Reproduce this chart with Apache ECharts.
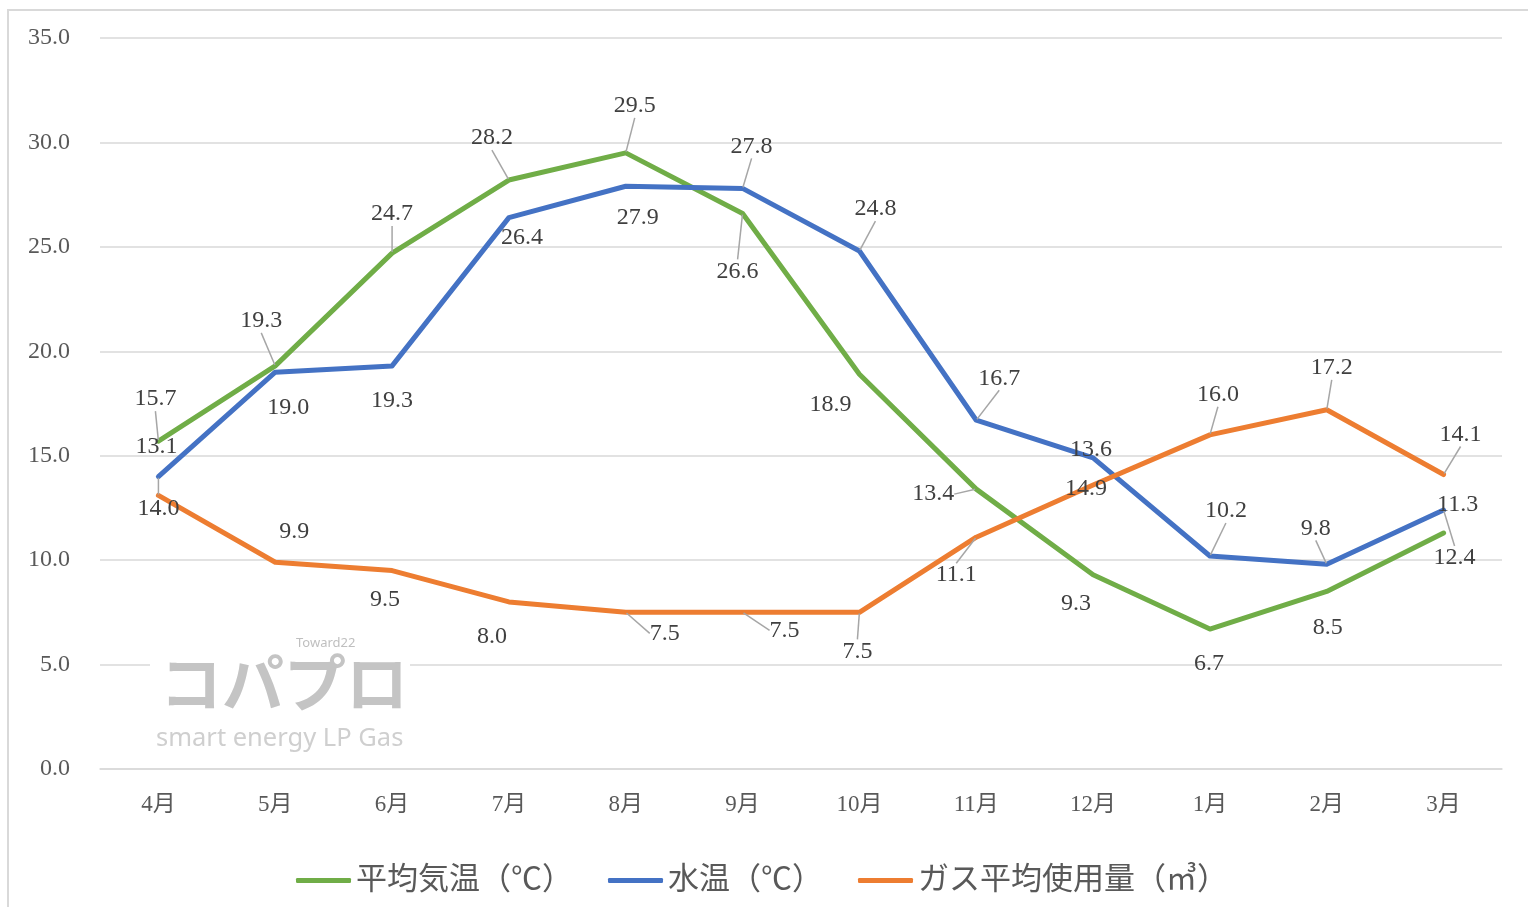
<!DOCTYPE html>
<html>
<head>
<meta charset="utf-8">
<script src="https://cdn.jsdelivr.net/npm/echarts@6/dist/echarts.min.js"></script>
<style>
html,body{margin:0;padding:0;background:#fff;}
#chart{width:1528px;height:907px;}
</style>
</head>
<body>
<div id="chart"></div>
<script>
const categories = ['4月','5月','6月','7月','8月','9月','10月','11月','12月','1月','2月','3月'];
const avgTemp   = [15.7, 19.3, 24.7, 28.2, 29.5, 26.6, 18.9, 13.4, 9.3, 6.7, 8.5, 11.3];
const waterTemp = [14.0, 19.0, 19.3, 26.4, 27.9, 27.8, 24.8, 16.7, 14.9, 10.2, 9.8, 12.4];
const gasUsage  = [13.1, 9.9, 9.5, 8.0, 7.5, 7.5, 7.5, 11.1, 13.6, 16.0, 17.2, 14.1];
const yTicks = { min: 0, max: 35, interval: 5 };
const seriesNames = ['平均気温（℃）', '水温（℃）', 'ガス平均使用量（㎥）'];

// label placement (pixel offsets of each data label from its point) and leader-line flags
const avgOff = [[-3,-42],[-14,-45],[0,-39],[-17,-42],[9,-47],[-5,58],[-29,30],[-43,5],[-17,29],[-1,35],[1,36],[14,-28]];
const avgLead = [1,1,1,1,1,1,0,1,0,0,0,0];
const watOff = [[0,32],[13,36],[0,35],[13,20],[12,31],[9,-42],[16,-42],[23,-42],[-7,31],[16,-45],[-11,-36],[11,48]];
const watLead = [1,0,0,0,0,1,1,1,0,1,1,1];
const gasOff = [[-2,-49],[19,-31],[-7,29],[-17,35],[39,21],[42,18],[-2,39],[-20,38],[-2,-35],[8,-40],[5,-42],[17,-40]];
const gasLead = [0,0,0,0,1,1,1,1,0,1,1,1];

const FONT = "'Liberation Serif', 'Noto Sans CJK JP', serif";

function makeData(vals, lead) {
  return vals.map((v, i) => ({ value: v, labelLine: { show: !!lead[i] } }));
}
function makeSeries(name, vals, color, off, lead) {
  return {
    name: name,
    type: 'line',
    data: makeData(vals, lead),
    showSymbol: true,
    symbol: 'circle',
    symbolSize: 2,
    itemStyle: { color: color },
    lineStyle: { color: color, width: 5, cap: 'round', join: 'round' },
    label: {
      show: true,
      position: 'inside',
      color: '#404040',
      fontSize: 24,
      fontFamily: FONT,
      formatter: p => Number(p.value).toFixed(1)
    },
    labelLine: { show: true, lineStyle: { color: '#A6A6A6', width: 1.5 } },
    labelLayout: function (params) {
      const o = off[params.dataIndex];
      return { dx: o[0], dy: o[1] };
    },
    emphasis: { disabled: true }
  };
}

const chart = echarts.init(document.getElementById('chart'));
chart.setOption({
  animation: false,
  backgroundColor: '#fff',
  grid: { left: 100, right: 26, top: 38, bottom: 138, containLabel: false },
  xAxis: {
    type: 'category',
    data: categories,
    boundaryGap: true,
    axisLine: { show: true, lineStyle: { color: '#D9D9D9', width: 1.5 } },
    axisTick: { show: false },
    axisLabel: { color: '#595959', fontSize: 23, fontFamily: FONT, margin: 24 }
  },
  yAxis: {
    type: 'value',
    min: yTicks.min, max: yTicks.max, interval: yTicks.interval,
    axisLine: { show: false },
    axisTick: { show: false },
    axisLabel: { color: '#595959', fontSize: 24, fontFamily: FONT, margin: 30, formatter: v => v.toFixed(1) },
    splitLine: { lineStyle: { color: '#D9D9D9', width: 1.5 } }
  },
  legend: {
    left: 291,
    top: 860,
    icon: 'roundRect',
    itemWidth: 55,
    itemHeight: 5,
    itemGap: 35,
    textStyle: { color: '#595959', fontSize: 31, fontFamily: FONT },
    data: seriesNames
  },
  graphic: [
    { type: 'rect', z: 100, shape: { x: 8, y: 10, width: 1540, height: 940 }, style: { fill: 'none', stroke: '#D9D9D9', lineWidth: 2 }, silent: true },
    { type: 'rect', z: 1, shape: { x: 150, y: 635, width: 260, height: 122 }, style: { fill: '#fff' }, silent: true },
    { type: 'text', z: 2, left: 160, top: 652, style: { text: 'コパプロ', fill: '#C4C4C4', fontSize: 62, fontWeight: 'bold', fontFamily: "'Noto Sans CJK JP', sans-serif" }, silent: true },
    { type: 'text', z: 2, left: 296, top: 637, style: { text: 'Toward22', fill: '#BFBFBF', fontSize: 13, fontFamily: "'Noto Sans', sans-serif" }, silent: true },
    { type: 'text', z: 2, left: 156, top: 726, style: { text: 'smart energy LP Gas', fill: '#CFCFCF', fontSize: 25.5, fontFamily: "'Noto Sans', sans-serif" }, silent: true }
  ],
  series: [
    makeSeries(seriesNames[0], avgTemp, '#70AD47', avgOff, avgLead),
    makeSeries(seriesNames[1], waterTemp, '#4472C4', watOff, watLead),
    makeSeries(seriesNames[2], gasUsage, '#ED7D31', gasOff, gasLead)
  ]
});
</script>
</body>
</html>
